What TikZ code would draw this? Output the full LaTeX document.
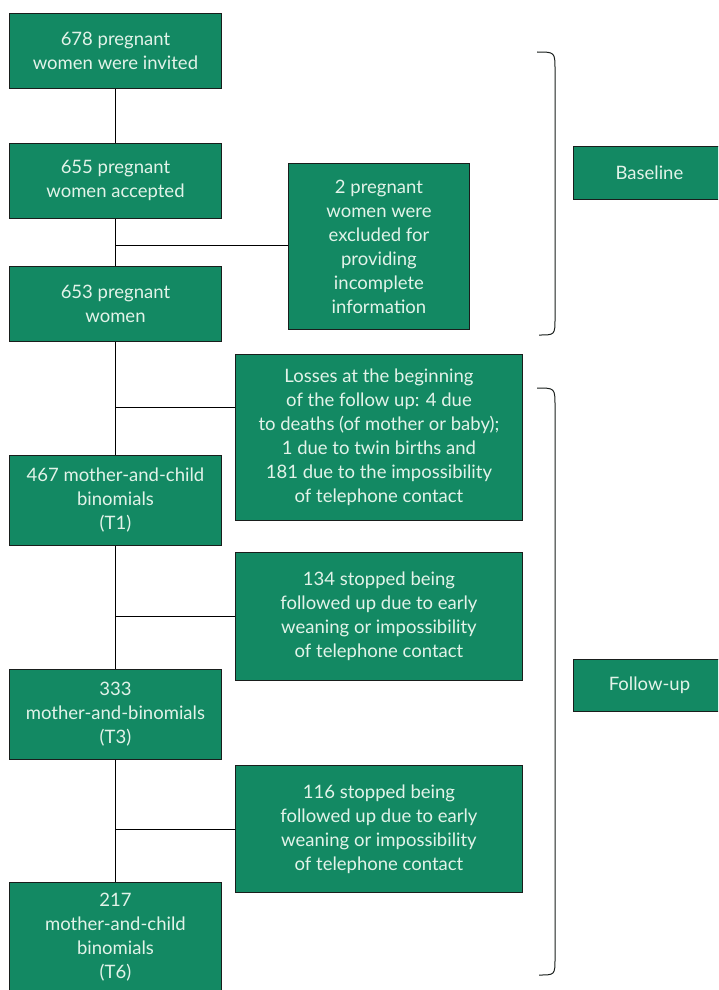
\documentclass[tikz,border=0pt]{standalone}
\usepackage{fontspec}
\setmainfont{Lato}
\definecolor{boxgreen}{RGB}{19,137,99}
\definecolor{boxtext}{RGB}{226,243,233}
\definecolor{edge}{RGB}{25,30,28}
\begin{document}
\begin{tikzpicture}[x=1pt,y=-1pt,
  flowbox/.style={draw=edge,line width=0.9pt,fill=boxgreen,text=boxtext,align=center,
    inner sep=0pt,anchor=north west,font=\fontsize{18.5}{24}\selectfont},
  link/.style={draw=black,line width=0.9pt},
  bracket/.style={draw=edge,line width=1pt}]
\useasboundingbox (0,0) rectangle (718,990);
\clip (0,0) rectangle (718,990);
% main column
\node[flowbox,minimum width=212pt,minimum height=75pt] (b1) at (9,13) {678 pregnant\\women were invited};
\node[flowbox,minimum width=212pt,minimum height=75pt] (b2) at (9,143) {655 pregnant\\women accepted};
\node[flowbox,minimum width=212pt,minimum height=75pt] (b3) at (9,266) {653 pregnant\\women};
\node[flowbox,minimum width=212pt,minimum height=90pt] (t1) at (9,455) {467 mother-and-child\\binomials\\(T1)};
\node[flowbox,minimum width=212pt,minimum height=90pt] (t3) at (9,669) {333\\mother-and-binomials\\(T3)};
\node[flowbox,minimum width=212pt,minimum height=110pt] (t6) at (9,882) {217\\mother-and-child\\binomials\\(T6)};
% side boxes
\node[flowbox,minimum width=181pt,minimum height=166pt] (excl) at (288,163) {2 pregnant\\women were\\excluded for\\providing\\incomplete\\information};
\node[flowbox,minimum width=287pt,minimum height=166pt] (loss) at (235,354) {Losses at the beginning\\of the follow up: 4 due\\to deaths (of mother or baby);\\1 due to twin births and\\181 due to the impossibility\\of telephone contact};
\node[flowbox,minimum width=287pt,minimum height=128pt] (stopa) at (235,552) {134 stopped being\\followed up due to early\\weaning or impossibility\\of telephone contact};
\node[flowbox,minimum width=287pt,minimum height=127pt] (stopb) at (235,765) {116 stopped being\\followed up due to early\\weaning or impossibility\\of telephone contact};
% phase labels
\node[flowbox,minimum width=152pt,minimum height=53pt] (base) at (573,146) {Baseline};
\node[flowbox,minimum width=152pt,minimum height=52pt] (fup) at (573,659) {Follow-up};
% trunk
\draw[link] (b1.south) -- (b2.north);
\draw[link] (b2.south) -- (b3.north);
\draw[link] (b3.south) -- (t1.north);
\draw[link] (t1.south) -- (t3.north);
\draw[link] (t3.south) -- (t6.north);
% branches
\coordinate (je) at (116,245);
\coordinate (jl) at (116,407);
\coordinate (ja) at (116,616);
\coordinate (jb) at (116,829);
\draw[link] (je) -- (excl.west |- je);
\draw[link] (jl) -- (loss.west |- jl);
\draw[link] (ja) -- (stopa.west |- ja);
\draw[link] (jb) -- (stopb.west |- jb);
% brackets
\coordinate (ba1) at (537,52);
\coordinate (ba2) at (539,335);
\draw[bracket] (ba1) .. controls (555,52) .. (555,70) -- (555,318) .. controls (555,335) .. (ba2);
\coordinate (bb1) at (537,388);
\coordinate (bb2) at (539,975);
\draw[bracket] (bb1) .. controls (555,388) .. (555,406) -- (555,958) .. controls (555,975) .. (bb2);
\end{tikzpicture}
\end{document}
